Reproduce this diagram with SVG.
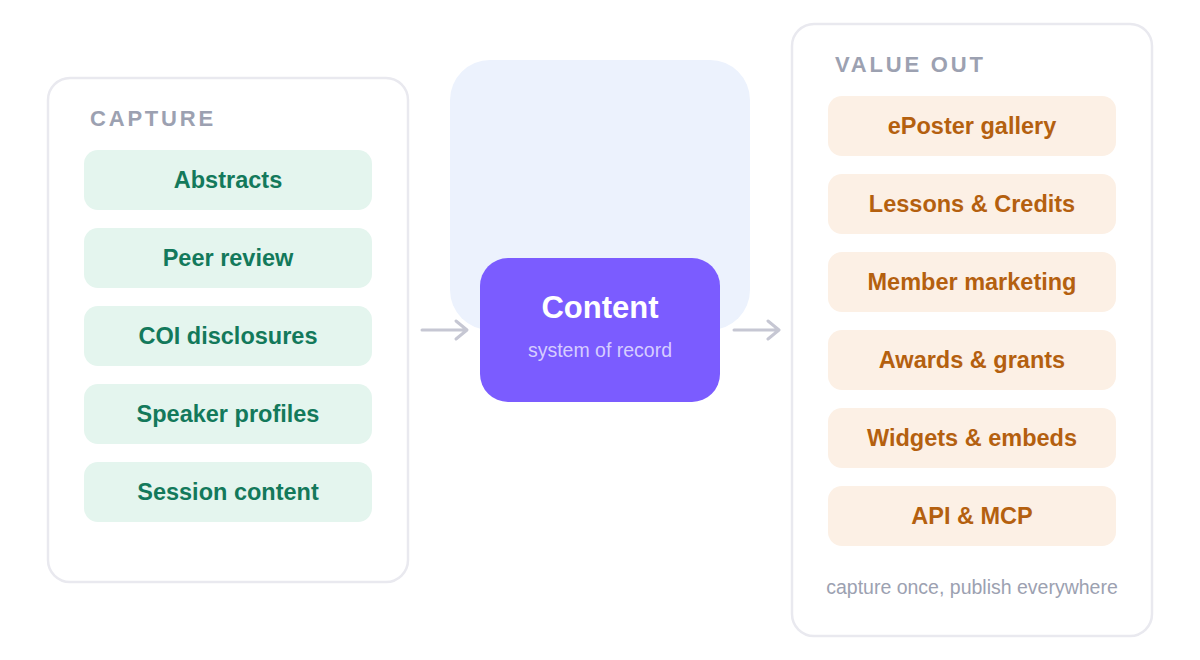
<svg xmlns="http://www.w3.org/2000/svg" width="1200" height="660" viewBox="0 0 1200 660">
<style>
.panel{fill:#fff;stroke:#e9e9ef;stroke-width:2.5}
.title{font-family:"Liberation Sans",Arial,sans-serif;font-weight:bold;font-size:22px;fill:#9ca1b1;letter-spacing:2.8px}
.g rect{fill:#e4f5ee}
.g text{font-family:"Liberation Sans",Arial,sans-serif;font-weight:bold;font-size:23.5px;fill:#13795b;text-anchor:middle}
.o rect{fill:#fcf0e5}
.o text{font-family:"Liberation Sans",Arial,sans-serif;font-weight:bold;font-size:23.5px;fill:#b4600f;text-anchor:middle}
.arr{stroke:#c6c7d3;stroke-width:3;fill:none;stroke-linecap:round;stroke-linejoin:round}
</style>
<rect width="1200" height="660" fill="#fff"/>
<g id="capture">
<rect class="panel" x="48" y="78" width="360" height="504" rx="22"/>
<text class="title" x="90" y="126">CAPTURE</text>
</g>
<g id="abstracts" class="g"><rect x="84" y="150" width="288" height="60" rx="14"/><text x="228" y="188">Abstracts</text></g>
<g id="peer" class="g"><rect x="84" y="228" width="288" height="60" rx="14"/><text x="228" y="266">Peer review</text></g>
<g id="coi" class="g"><rect x="84" y="306" width="288" height="60" rx="14"/><text x="228" y="344">COI disclosures</text></g>
<g id="speaker" class="g"><rect x="84" y="384" width="288" height="60" rx="14"/><text x="228" y="422">Speaker profiles</text></g>
<g id="session" class="g"><rect x="84" y="462" width="288" height="60" rx="14"/><text x="228" y="500">Session content</text></g>
<g id="backdrop"><rect x="450" y="60" width="300" height="270" rx="40" fill="#ecf2fd"/></g>
<g id="content">
<rect x="480" y="258" width="240" height="144" rx="28" fill="#7b5cff"/>
<text x="600" y="318" font-family="Liberation Sans,Arial,sans-serif" font-weight="bold" font-size="31" fill="#fff" text-anchor="middle">Content</text>
<text x="600" y="357" font-family="Liberation Sans,Arial,sans-serif" font-size="19.5" fill="#d6cdff" text-anchor="middle">system of record</text>
</g>
<g id="connectors">
<path class="arr" d="M422 330H466M456 321L467 330L456 339"/>
<path class="arr" d="M734 330H778M768 321L779 330L768 339"/>
</g>
<g id="valueout">
<rect class="panel" x="792" y="24" width="360" height="612" rx="22"/>
<text class="title" x="835" y="72">VALUE OUT</text>
<text x="972" y="594" font-family="Liberation Sans,Arial,sans-serif" font-size="19.5" fill="#9ca1b1" text-anchor="middle">capture once, publish everywhere</text>
</g>
<g id="eposter" class="o"><rect x="828" y="96" width="288" height="60" rx="14"/><text x="972" y="134">ePoster gallery</text></g>
<g id="lessons" class="o"><rect x="828" y="174" width="288" height="60" rx="14"/><text x="972" y="212">Lessons &amp; Credits</text></g>
<g id="member" class="o"><rect x="828" y="252" width="288" height="60" rx="14"/><text x="972" y="290">Member marketing</text></g>
<g id="awards" class="o"><rect x="828" y="330" width="288" height="60" rx="14"/><text x="972" y="368">Awards &amp; grants</text></g>
<g id="widgets" class="o"><rect x="828" y="408" width="288" height="60" rx="14"/><text x="972" y="446">Widgets &amp; embeds</text></g>
<g id="api" class="o"><rect x="828" y="486" width="288" height="60" rx="14"/><text x="972" y="524">API &amp; MCP</text></g>
</svg>
